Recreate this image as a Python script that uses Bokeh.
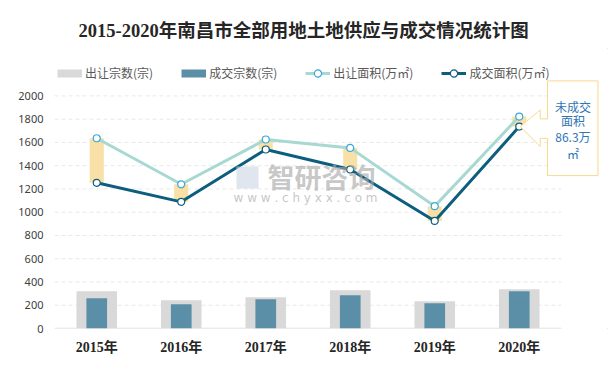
from bokeh.plotting import figure
from bokeh.models import Range1d, FixedTicker, Legend, LegendItem, Title
from bokeh.core.properties import value
from bokeh.embed import file_html
from bokeh.resources import INLINE

# ---------------- data ----------------
years = ["2015年", "2016年", "2017年", "2018年", "2019年", "2020年"]
supply_count = [321, 243, 269, 329, 235, 338]          # 出让宗数(宗)
deal_count = [260, 209, 252, 286, 217, 320]            # 成交宗数(宗)
supply_area = [1636, 1240, 1625, 1553, 1052, 1822.3]   # 出让面积(万㎡)
deal_area = [1253, 1089, 1539, 1367, 925, 1736]        # 成交面积(万㎡)
y_ticks = [0, 200, 400, 600, 800, 1000, 1200, 1400, 1600, 1800, 2000]
series_names = ["出让宗数(宗)", "成交宗数(宗)", "出让面积(万㎡)", "成交面积(万㎡)"]
title_text = "2015-2020年南昌市全部用地土地供应与成交情况统计图"

# ---------------- layout ----------------
FRAME_L, FRAME_T = 54, 48
FRAME_W, FRAME_H = 557, 280
BOTTOM = 42
CAT_PX = 84.5
X_START = -0.5
X_END = X_START + FRAME_W / CAT_PX
Y_PX = 232.6 / 2000.0
Y_END = FRAME_H / Y_PX

CJK = "Noto Sans CJK SC"
SERIF = "Liberation Serif, Noto Sans CJK SC"

xs = list(range(len(years)))
n = len(years)

p = figure(frame_width=FRAME_W, frame_height=FRAME_H,
           x_range=Range1d(X_START, X_END), y_range=Range1d(0, Y_END),
           output_backend="svg", toolbar_location=None,
           min_border_left=FRAME_L, min_border_right=0,
           min_border_top=FRAME_T, min_border_bottom=BOTTOM,
           background_fill_color="white", border_fill_color="white",
           outline_line_color=None,
           styles={"outline": "1px solid #A6A6A6", "outline-offset": "-4px"})

p.title = Title(text=title_text, align="left", offset=24, standoff=16,
                text_font=SERIF, text_font_size="18.5px", text_font_style="bold",
                text_color="#262626")

p.xgrid.visible = False
p.ygrid.visible = False

# axes
p.yaxis.ticker = FixedTicker(ticks=y_ticks)
p.yaxis.axis_line_color = None
p.yaxis.major_tick_line_color = None
p.yaxis.minor_tick_line_color = None
p.yaxis.major_tick_in = 0
p.yaxis.major_tick_out = 0
p.yaxis.major_label_standoff = 11
p.yaxis.major_label_text_font = "Noto Sans"
p.yaxis.major_label_text_font_size = "11px"
p.yaxis.major_label_text_color = "#404040"

p.xaxis.ticker = FixedTicker(ticks=xs)
p.xaxis.major_label_overrides = {i: years[i] for i in xs}
p.xaxis.axis_line_color = None
p.xaxis.major_tick_line_color = None
p.xaxis.minor_tick_line_color = None
p.xaxis.major_tick_in = 0
p.xaxis.major_tick_out = 0
p.xaxis.major_label_standoff = 11
p.xaxis.major_label_text_font = SERIF
p.xaxis.major_label_text_font_size = "14px"
p.xaxis.major_label_text_font_style = "bold"
p.xaxis.major_label_text_color = "#262626"

# grid lines (only over the category span) and base line
grid_y = y_ticks[1:]
p.segment(x0=[X_START] * len(grid_y), x1=[n - 0.5] * len(grid_y), y0=grid_y, y1=grid_y,
          line_color="#E8E8E8", line_width=1, line_dash="4 3")
p.segment(x0=[X_START], x1=[n - 0.5], y0=[0], y1=[0], line_color="#D9D9D9", line_width=1.5)

# bars
p.vbar(x=xs, top=supply_count, width=0.48, fill_color="#D9D9D9", line_color=None)
p.vbar(x=xs, top=deal_count, width=0.245, fill_color="#5B8FA8", line_color=None)

# difference bands
p.vbar(x=xs, bottom=deal_area, top=supply_area, width=0.166, fill_color="#F8E0A6", line_color=None)

# lines
l1 = p.line(xs, supply_area, line_color="#A8D8D2", line_width=3)
s1 = p.scatter(xs, supply_area, size=7, fill_color="white", line_color="#3AA8D8", line_width=1.2)
l2 = p.line(xs, deal_area, line_color="#0D5E7E", line_width=3)
s2 = p.scatter(xs, deal_area, size=7, fill_color="white", line_color="#0D5E7E", line_width=1.2)

# legend proxies for the bar series (kept outside the visible range)
off = [X_START - 10, X_START - 9]
g_proxy = p.line(x=off, y=[-100, -100], line_color="#D9D9D9", line_width=8)
b_proxy = p.line(x=off, y=[-100, -100], line_color="#5B8FA8", line_width=8)

legend = Legend(items=[
    LegendItem(label=series_names[0], renderers=[g_proxy]),
    LegendItem(label=series_names[1], renderers=[b_proxy]),
    LegendItem(label=series_names[2], renderers=[l1, s1]),
    LegendItem(label=series_names[3], renderers=[l2, s2]),
], location=(3, 246.5), orientation="horizontal",
    glyph_width=25, glyph_height=18, label_height=18, label_standoff=3, spacing=28,
    padding=0, margin=0, label_text_font=CJK, label_text_font_size="12px",
    label_text_color="#595959", background_fill_alpha=0, border_line_color=None)
p.add_layout(legend)

# callout anchored at the 2020 point
tip_x = xs[-1] + 1.0 / CAT_PX
tip_y = deal_area[-1]
outline_px = [(27.3, -45.7), (77.7, -45.7), (77.7, 49), (27.3, 49), (27.3, 11.7),
              (20, 11.7), (20, 20), (0, 0), (20, -16.7), (20, -7.7), (27.3, -7.7)]
cx = [tip_x + dx / CAT_PX for dx, dy in outline_px]
cy = [tip_y - dy / Y_PX for dx, dy in outline_px]
p.patch(cx, cy, fill_color="white", line_color="#F8D98A", line_width=1)

diff = supply_area[-1] - deal_area[-1]
callout_lines = ["未成交", "面积", f"{diff:.1f}万", "㎡"]
line_dy = [-20, -5.7, 10.3, 27]
p.text(x=[tip_x + 52.7 / CAT_PX] * 4, y=[tip_y - d / Y_PX for d in line_dy], text=callout_lines,
       text_align="center", text_baseline="middle", text_font=value(CJK),
       text_font_size="12px", text_color="#2F75B5")

# watermark
def to_data(rx, ry):
    return X_START + (rx - FRAME_L) / CAT_PX, (FRAME_T + FRAME_H - ry) / Y_PX

wx, wy = to_data(267, 176)
p.text(x=[wx], y=[wy], text=["智研咨询"], text_align="left", text_baseline="middle",
       text_font=value(CJK), text_font_size="27px", text_font_style="bold",
       text_color="#A8A8A8", text_alpha=0.65)
wx2, wy2 = to_data(305, 197)
p.text(x=[wx2], y=[wy2], text=["w w w . c h y x x . c o m"], text_align="center",
       text_baseline="middle", text_font=value("DejaVu Sans"), text_font_size="12px",
       text_color="#B8B8B8", text_alpha=0.8)
# logo block of the watermark
lx0, ly0 = to_data(236, 166)
lx1, ly1 = to_data(258, 188)
p.quad(left=[lx0], right=[lx1], top=[ly0], bottom=[ly1], fill_color="#C9D6E6",
       fill_alpha=0.6, line_color=None)

open("out.html", "w").write(file_html(p, INLINE))
